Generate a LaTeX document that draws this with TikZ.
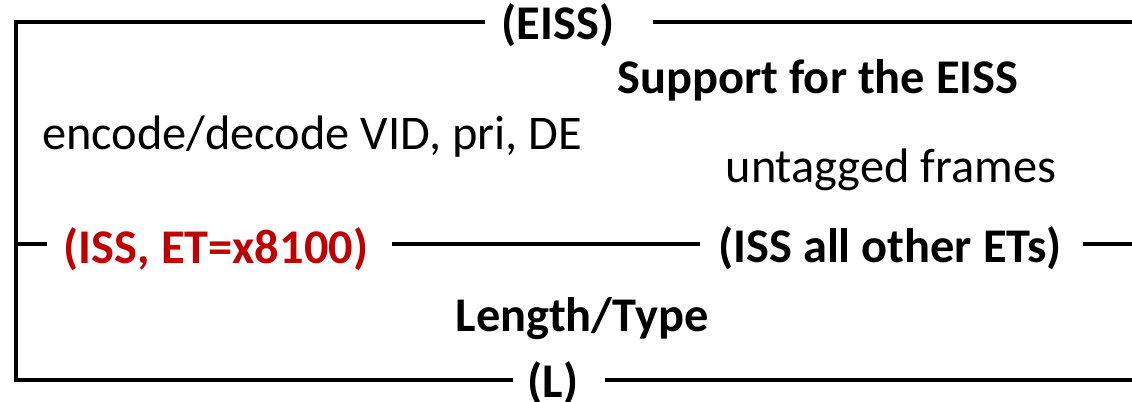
\documentclass[tikz,border=0pt]{standalone}
\usepackage{fontspec}
\setmainfont{Carlito}
\definecolor{issred}{HTML}{C00000}
\begin{document}
\begin{tikzpicture}[x=0.5pt,y=-0.5pt,
  rule/.style={line width=1.65pt, line cap=butt},
  lbl/.style={anchor=base, inner sep=0pt, font=\fontsize{24.2}{28}\selectfont},
  blbl/.style={lbl, font=\fontsize{24.2}{28}\selectfont\bfseries}]
\useasboundingbox (0,0) rectangle (1132,402);

% service layer labels
\node[blbl] (eiss) at (558,39) {(EISS)};
\node[blbl] (support) at (818,93) {Support for the EISS};
\node[lbl] (encode) at (312,149) {encode/decode VID, pri, DE};
\node[lbl] (untagged) at (891,182) {untagged frames};
\node[blbl, text=issred] (iss8100) at (216,263) {(ISS, ET=x8100)};
\node[blbl] (issother) at (890,262) {(ISS all other ETs)};
\node[blbl] (lentype) at (582,331) {Length/Type};
\node[blbl] (ell) at (553,397) {(L)};

% line end points
\coordinate (tl) at (16,22);
\coordinate (bl) at (16,380);
\coordinate (ml) at (16,244);
\coordinate (eissA) at (485,22);
\coordinate (eissB) at (653,22);
\coordinate (tr) at (1132,22);
\coordinate (mA) at (47,244);
\coordinate (mB) at (392,244);
\coordinate (mC) at (700,244);
\coordinate (mD) at (1083,244);
\coordinate (mr) at (1132,244);
\coordinate (lA) at (513,380);
\coordinate (lB) at (605,380);
\coordinate (br) at (1132,380);

% frame rules
\draw[rule] (eissA) -- (tl) -- (bl) -- (lA);
\draw[rule] (eissB) -- (tr);
\draw[rule] (lB) -- (br);
\draw[rule] (ml) -- (mA);
\draw[rule] (mB) -- (mC);
\draw[rule] (mD) -- (mr);
\end{tikzpicture}
\end{document}
